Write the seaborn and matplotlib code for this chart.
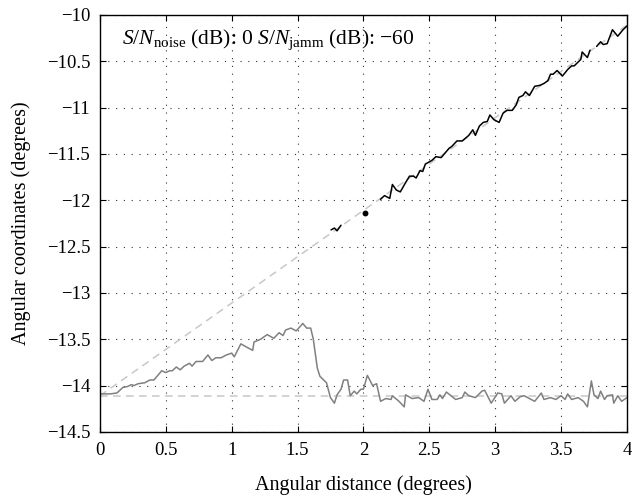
import numpy as np
import pandas as pd
import seaborn as sns
import matplotlib
matplotlib.use("Agg")
import matplotlib.pyplot as plt

# ---------------- data ----------------
gray_x = [0.00, 0.04, 0.08, 0.13, 0.175, 0.21, 0.24, 0.26, 0.29, 0.34, 0.38, 0.41,
          0.47, 0.50, 0.53, 0.55, 0.58, 0.61, 0.64, 0.68, 0.70, 0.73, 0.78, 0.82,
          0.85, 0.88, 0.92, 0.96, 1.00, 1.02, 1.07, 1.12, 1.16, 1.17, 1.22, 1.27,
          1.32, 1.36, 1.39, 1.41, 1.45, 1.49, 1.54, 1.57, 1.60, 1.62, 1.65, 1.67,
          1.72, 1.75, 1.78, 1.80, 1.83, 1.85, 1.88, 1.90, 1.93, 1.95, 1.98, 2.00,
          2.03, 2.07, 2.10, 2.13, 2.17, 2.21, 2.22, 2.27, 2.31, 2.32, 2.37, 2.42,
          2.46, 2.49, 2.52, 2.56, 2.58, 2.60, 2.63, 2.70, 2.75, 2.77, 2.80, 2.85,
          2.90, 2.92, 2.97, 3.02, 3.05, 3.07, 3.12, 3.15, 3.19, 3.22, 3.30, 3.35,
          3.37, 3.42, 3.46, 3.50, 3.53, 3.55, 3.58, 3.63, 3.67, 3.70, 3.73, 3.75,
          3.78, 3.80, 3.83, 3.85, 3.89, 3.90, 3.93, 3.96, 4.00]
gray_y = [-14.09, -14.09, -14.09, -14.08, -14.02, -14.01, -13.99, -14.00, -13.98, -13.97, -13.94, -13.94,
          -13.84, -13.86, -13.84, -13.84, -13.80, -13.83, -13.79, -13.76, -13.79, -13.74, -13.74, -13.67,
          -13.73, -13.70, -13.70, -13.67, -13.65, -13.69, -13.55, -13.59, -13.62, -13.53, -13.50, -13.45,
          -13.49, -13.43, -13.46, -13.40, -13.38, -13.41, -13.33, -13.38, -13.38, -13.50, -13.81, -13.90,
          -13.97, -14.13, -14.19, -14.10, -14.04, -13.94, -13.94, -14.11, -14.06, -14.09, -14.04, -14.04,
          -13.89, -14.00, -13.98, -14.17, -14.14, -14.15, -14.11, -14.17, -14.23, -14.10, -14.14, -14.13,
          -14.17, -14.04, -14.15, -14.15, -14.10, -14.14, -14.07, -14.15, -14.13, -14.07, -14.11, -14.13,
          -14.06, -14.05, -14.19, -14.08, -14.09, -14.19, -14.11, -14.17, -14.12, -14.11, -14.17, -14.08,
          -14.15, -14.13, -14.15, -14.11, -14.15, -14.09, -14.15, -14.13, -14.17, -14.23, -13.95, -14.10,
          -14.14, -14.06, -14.15, -14.11, -14.10, -14.19, -14.11, -14.17, -14.13]

black_seg = [0, 0, 0, 0,
             1, 1, 1, 1, 1, 1, 1, 1, 1, 1, 1, 1, 1, 1, 1, 1, 1, 1, 1, 1, 1, 1, 1, 1,
             1, 1, 1, 1, 1, 1, 1, 1, 1, 1, 1, 1, 1, 1, 1, 1, 1, 1, 1, 1, 1, 1, 1, 1,
             1, 1, 1, 1,
             2, 2, 2, 2, 2, 2, 2, 2]
black_x = [1.755, 1.78, 1.80, 1.83,
           2.13, 2.16, 2.20, 2.22, 2.25, 2.28, 2.32, 2.35, 2.38, 2.40, 2.43, 2.45,
           2.47, 2.52, 2.55, 2.59, 2.65, 2.67, 2.71, 2.75, 2.80, 2.83, 2.85, 2.88,
           2.91, 2.94, 2.96, 2.99, 3.03, 3.06, 3.09, 3.13, 3.16, 3.18, 3.21, 3.23,
           3.26, 3.30, 3.34, 3.37, 3.40, 3.42, 3.44, 3.47, 3.51, 3.55, 3.58, 3.60,
           3.65, 3.66, 3.70, 3.72,
           3.77, 3.80, 3.82, 3.85, 3.89, 3.93, 3.97, 4.00]
black_y = [-12.32, -12.30, -12.33, -12.27,
           -11.99, -11.95, -11.98, -11.83, -11.89, -11.91, -11.81, -11.74, -11.74, -11.76, -11.68, -11.69,
           -11.61, -11.57, -11.53, -11.54, -11.44, -11.42, -11.36, -11.36, -11.30, -11.24, -11.30, -11.20,
           -11.16, -11.15, -11.08, -11.13, -11.16, -11.06, -11.03, -11.03, -10.97, -10.89, -10.87, -10.83,
           -10.87, -10.77, -10.76, -10.74, -10.71, -10.64, -10.64, -10.60, -10.66, -10.59, -10.55, -10.55,
           -10.48, -10.40, -10.46, -10.38,
           -10.34, -10.29, -10.32, -10.31, -10.16, -10.23, -10.16, -10.12]

dot_x = [2.01]
dot_y = [-12.14]

ref_diag_x = [0.0, 4.0]
ref_diag_y = [-14.11, -10.11]
ref_flat_x = [0.0, 4.0]
ref_flat_y = [-14.11, -14.11]

x_ticks = [0, 0.5, 1, 1.5, 2, 2.5, 3, 3.5, 4]
x_ticklabels = ["0", "0.5", "1", "1.5", "2", "2.5", "3", "3.5", "4"]
y_ticks = [-14.5, -14, -13.5, -13, -12.5, -12, -11.5, -11, -10.5, -10]
y_ticklabels = ["\u221214.5", "\u221214", "\u221213.5", "\u221213", "\u221212.5",
                "\u221212", "\u221211.5", "\u221211", "\u221210.5", "\u221210"]

annotation = (r"$\mathit{S/N}_{\mathrm{noise}}$ (dB): 0 "
              r"$\mathit{S/N}_{\mathrm{jamm}}$ (dB): $-$60")
xlabel = "Angular distance (degrees)"
ylabel = "Angular coordinates (degrees)"

# ---------------- style ----------------
sns.set_theme(style="white")
plt.rcParams["font.family"] = ["Liberation Serif", "DejaVu Serif"]
plt.rcParams["mathtext.fontset"] = "custom"
plt.rcParams["mathtext.rm"] = "Liberation Serif"
plt.rcParams["mathtext.it"] = "Liberation Serif:italic"
plt.rcParams["axes.unicode_minus"] = True

fig = plt.figure(figsize=(6.32, 4.97), dpi=100)
ax = fig.add_axes([0.158, 0.131, 0.834, 0.839])

dash = (0, (5, 3.5))
ref_col = "#c8c8c8"
sns.lineplot(x=ref_diag_x, y=ref_diag_y, ax=ax, color=ref_col, lw=1.1,
             estimator=None, sort=False)
sns.lineplot(x=ref_flat_x, y=ref_flat_y, ax=ax, color=ref_col, lw=1.1,
             estimator=None, sort=False)
for l in ax.get_lines():
    l.set_linestyle(dash)

sns.lineplot(x=gray_x, y=gray_y, ax=ax, color="#808080", lw=1.1,
             estimator=None, sort=False)

bdf = pd.DataFrame({"x": black_x, "y": black_y, "seg": black_seg})
sns.lineplot(data=bdf, x="x", y="y", units="seg", estimator=None, sort=False,
             ax=ax, color="black", lw=1.1)
sns.scatterplot(x=dot_x, y=dot_y, ax=ax, color="black", s=18, linewidth=0, zorder=5)

ax.set_xlim(0, 4)
ax.set_ylim(-14.5, -10)
ax.set_xticks(x_ticks)
ax.set_xticklabels(x_ticklabels)
ax.set_yticks(y_ticks)
ax.set_yticklabels(y_ticklabels)

ax.grid(True, color="#333333", linestyle=(0, (1, 6)), linewidth=0.8)
ax.set_axisbelow(True)
for s in ax.spines.values():
    s.set_visible(True)
    s.set_color("black")
    s.set_linewidth(1.0)

ax.tick_params(axis="both", direction="in", length=4, width=0.8, color="black",
               labelsize=13.5, top=True, right=True, bottom=True, left=True,
               labelcolor="black")
ax.tick_params(axis="x", pad=7)
ax.tick_params(axis="y", pad=7)

ax.set_xlabel(xlabel, fontsize=14.5, color="black", labelpad=12)
ax.set_ylabel(ylabel, fontsize=14.5, color="black", labelpad=11)

ax.text(0.17, -10.27, annotation, fontsize=15.5, color="black",
        ha="left", va="center")

fig.savefig("out.png", dpi=100)
